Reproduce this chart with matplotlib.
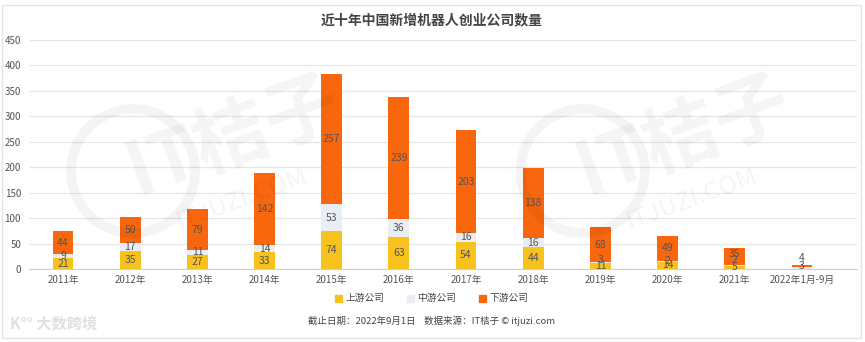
import numpy as np
import matplotlib.pyplot as plt
from matplotlib.patches import Rectangle

plt.rcParams['font.family'] = ['Noto Sans CJK SC', 'DejaVu Sans']

# データ
YEARS = ['2011年', '2012年', '2013年', '2014年', '2015年', '2016年',
         '2017年', '2018年', '2019年', '2020年', '2021年', '2022年1月-9月']
UPSTREAM = [21, 35, 27, 33, 74, 63, 54, 44, 11, 14, 5, 0]
MIDSTREAM = [9, 17, 11, 14, 53, 36, 16, 16, 3, 2, 2, 4]
DOWNSTREAM = [44, 50, 79, 142, 257, 239, 203, 138, 68, 49, 35, 3]
SERIES_NAMES = ['上游公司', '中游公司', '下游公司']

COLORS = ['#F7C21E', '#E9EDF4', '#F8660D']
LABEL_COLOR = '#555555'

# 込み合ったラベルの位置調整 (系列番号, 年番号): y方向のずらし量
LABEL_NUDGE = {(1, 8): 6, (1, 10): 11, (2, 10): 4, (0, 10): 2, (1, 11): 19}

W, H = 865, 342
fig = plt.figure(figsize=(W / 100, H / 100), dpi=100)

# 外枠
fig.patches.append(Rectangle((2 / W, 4 / H), (W - 6) / W, (H - 9) / H, transform=fig.transFigure,
                             fill=False, edgecolor='#e4e4e4', linewidth=1))

ax = fig.add_axes([29.4 / W, (H - 269) / H, (857 - 29.4) / W, 229 / H])
x = np.arange(len(YEARS))
bw = 0.31

bottom = np.zeros(len(YEARS))
for k, (vals, color) in enumerate(zip([UPSTREAM, MIDSTREAM, DOWNSTREAM], COLORS)):
    vals = np.array(vals, dtype=float)
    ax.bar(x, vals, bw, bottom=bottom, color=color, zorder=2)
    for i, v in enumerate(vals):
        if v <= 0:
            continue
        yc = bottom[i] + v / 2 + LABEL_NUDGE.get((k, i), 0)
        ax.text(x[i], yc, f'{int(v)}', ha='center', va='center', fontsize=7.5,
                color=LABEL_COLOR, zorder=4)
    bottom += vals

ax.set_xlim(-0.5, 11.82)
ax.set_ylim(0, 450)
ax.set_yticks(np.arange(0, 451, 50))
ax.yaxis.grid(True, color='#e6e6e6', linewidth=0.9, zorder=0)
ax.set_axisbelow(True)
for s in ['top', 'right', 'left']:
    ax.spines[s].set_visible(False)
ax.spines['bottom'].set_color('#d0d0d0')
ax.set_xticks(x)
ax.set_xticklabels(YEARS)
ax.tick_params(axis='both', length=0, labelsize=7, colors='#555555')
ax.tick_params(axis='x', pad=4)
ax.tick_params(axis='y', pad=6)

# 透かし
for cx in [0.2, 0.72]:
    fig.text(cx + 0.07, 0.6, 'IT桔子', fontsize=54, color='#000000', alpha=0.045,
             rotation=20, ha='center', va='center', fontweight='bold')
    fig.text(cx + 0.08, 0.42, 'ITJUZI.COM', fontsize=18, color='#000000', alpha=0.045,
             rotation=20, ha='center', va='center')
    circ = plt.Circle((cx * W - 40, 0.5 * H), 62, transform=None, fill=False,
                      edgecolor='#000000', alpha=0.045, linewidth=7)
    fig.patches.append(circ)

fig.text(432 / W, 1 - 20 / H, '近十年中国新增机器人创业公司数量', ha='center', va='center',
         fontsize=10, fontweight='bold', color='#444444')

# 凡例
leg_y = 1 - 298 / H
for lx, name, color in zip([335, 407, 479], SERIES_NAMES, COLORS):
    fig.patches.append(Rectangle((lx / W, leg_y - 3.5 / H), 7 / W, 7 / H,
                                 transform=fig.transFigure, color=color))
    fig.text((lx + 10) / W, leg_y, name, ha='left', va='center', fontsize=7, color='#444444')

fig.text(432 / W, 1 - 321 / H, '截止日期：2022年9月1日    数据来源：IT桔子 © itjuzi.com',
         ha='center', va='center', fontsize=6.8, color='#444444')

fig.text(10 / W, 1 - 324 / H, 'K°° 大数跨境', ha='left', va='center', fontsize=11,
         color='#000000', alpha=0.12, fontweight='bold')

fig.savefig('out.png', dpi=100)
